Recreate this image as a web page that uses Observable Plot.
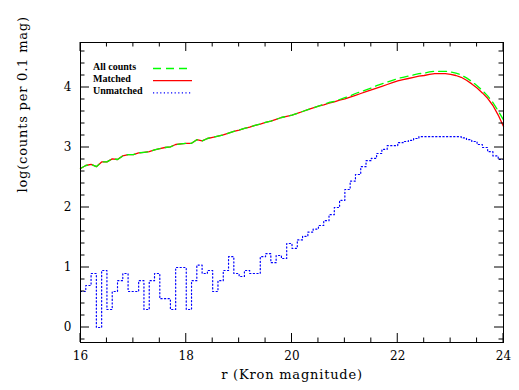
<!DOCTYPE html>
<html>
<head>
<meta charset="utf-8">
<script src="https://cdn.jsdelivr.net/npm/d3@7"></script>
<script src="https://cdn.jsdelivr.net/npm/@observablehq/plot@0.6"></script>
<style>
  html, body { margin: 0; padding: 0; background: #fff; }
</style>
</head>
<body>
<div id="chart"></div>
<script>
// r magnitude bin edges (0.1 mag bins)
const magnitudes = [
  16.0,16.1,16.2,16.3,16.4,16.5,16.6,16.7,16.8,16.9,
  17.0,17.1,17.2,17.3,17.4,17.5,17.6,17.7,17.8,17.9,
  18.0,18.1,18.2,18.3,18.4,18.5,18.6,18.7,18.8,18.9,
  19.0,19.1,19.2,19.3,19.4,19.5,19.6,19.7,19.8,19.9,
  20.0,20.1,20.2,20.3,20.4,20.5,20.6,20.7,20.8,20.9,
  21.0,21.1,21.2,21.3,21.4,21.5,21.6,21.7,21.8,21.9,
  22.0,22.1,22.2,22.3,22.4,22.5,22.6,22.7,22.8,22.9,
  23.0,23.1,23.2,23.3,23.4,23.5,23.6,23.7,23.8,23.9,
  24.0
];

// log(counts per 0.1 mag)
const allCounts = [
  2.65,2.70,2.72,2.68,2.76,2.76,2.81,2.80,2.86,2.88,
  2.88,2.91,2.92,2.93,2.96,2.98,3.00,3.01,3.05,3.06,
  3.07,3.07,3.13,3.11,3.15,3.17,3.19,3.21,3.24,3.27,
  3.29,3.32,3.34,3.37,3.39,3.42,3.44,3.47,3.50,3.52,
  3.54,3.57,3.60,3.63,3.66,3.69,3.72,3.75,3.77,3.80,
  3.83,3.86,3.90,3.93,3.96,3.99,4.03,4.06,4.09,4.12,
  4.15,4.17,4.19,4.21,4.23,4.24,4.26,4.27,4.27,4.27,
  4.26,4.24,4.21,4.16,4.10,4.03,3.95,3.86,3.75,3.61,
  3.46
];

const matched = [
  2.65,2.70,2.72,2.68,2.76,2.76,2.81,2.80,2.86,2.88,
  2.88,2.91,2.92,2.93,2.96,2.98,3.00,3.01,3.05,3.06,
  3.07,3.07,3.13,3.11,3.15,3.17,3.19,3.21,3.24,3.27,
  3.29,3.32,3.34,3.37,3.39,3.42,3.44,3.47,3.50,3.52,
  3.54,3.57,3.60,3.63,3.66,3.69,3.71,3.74,3.76,3.79,
  3.81,3.84,3.87,3.90,3.93,3.96,3.99,4.02,4.05,4.08,
  4.11,4.13,4.15,4.17,4.19,4.20,4.22,4.23,4.23,4.23,
  4.22,4.20,4.17,4.12,4.06,3.99,3.91,3.82,3.70,3.54,
  3.35
];

// histogram (step) values, one per bin; last entry closes the final bin at 24.0
const unmatched = [
  0.60,0.70,0.90,0.00,0.95,0.30,0.60,0.78,0.90,0.60,
  0.60,0.78,0.30,0.78,0.90,0.48,0.48,0.30,1.00,1.00,
  0.30,0.78,1.04,0.90,0.95,0.60,0.78,0.95,1.18,0.90,
  0.85,0.95,0.90,0.90,1.18,1.23,1.08,1.20,1.15,1.40,
  1.32,1.46,1.52,1.59,1.64,1.70,1.78,1.88,2.00,2.12,
  2.30,2.44,2.55,2.68,2.78,2.82,2.90,2.97,3.03,3.03,
  3.08,3.10,3.12,3.15,3.18,3.18,3.18,3.18,3.18,3.18,
  3.18,3.18,3.16,3.13,3.10,3.05,3.00,2.93,2.86,2.80,
  2.80
];

const xMajor = [16, 18, 20, 22, 24];
const xMinor = [16.5, 17, 17.5, 18.5, 19, 19.5, 20.5, 21, 21.5, 22.5, 23, 23.5];
const yMajor = [0, 1, 2, 3, 4];
const yMinor = [-0.2, 0.2, 0.4, 0.6, 0.8, 1.2, 1.4, 1.6, 1.8, 2.2, 2.4, 2.6, 2.8,
                3.2, 3.4, 3.6, 3.8, 4.2, 4.4, 4.6];

const xTitle = "r (Kron magnitude)";
const yTitle = "log(counts per 0.1 mag)";

const legendLabels = ["All counts", "Matched", "Unmatched"];
const legendColors = ["#00ff00", "#ff0000", "#0000ff"];
const legendDashes = ["8,5", null, "1.2,2.4"];

const rows = magnitudes.map((m, i) => ({
  mag: m, all: allCounts[i], matched: matched[i], unmatched: unmatched[i]
}));

// inward-pointing ticks on all four sides, placed with Plot's own scales
function ticksMark(index, scales, values, dims) {
  const g = d3.create("svg:g").attr("stroke", "#000").attr("stroke-width", 1).attr("fill", "none");
  const L = dims.marginLeft, R = dims.width - dims.marginRight;
  const T = dims.marginTop, B = dims.height - dims.marginBottom;
  const sets = [[xMajor, yMajor, 9], [xMinor, yMinor, 4.5]];
  for (const [xs, ys, len] of sets) {
    for (const v of xs) {
      const px = scales.x(v);
      g.append("line").attr("x1", px).attr("x2", px).attr("y1", B).attr("y2", B - len);
      g.append("line").attr("x1", px).attr("x2", px).attr("y1", T).attr("y2", T + len);
    }
    for (const v of ys) {
      const py = scales.y(v);
      g.append("line").attr("y1", py).attr("y2", py).attr("x1", L).attr("x2", L + len);
      g.append("line").attr("y1", py).attr("y2", py).attr("x1", R).attr("x2", R - len);
    }
  }
  return g.node();
}

function legendMark(index, scales, values, dims) {
  const g = d3.create("svg:g");
  const x0 = dims.marginLeft, y0 = dims.marginTop;
  legendLabels.forEach((label, i) => {
    const yy = y0 + 26.5 + i * 12.2;
    g.append("text")
      .attr("x", x0 + 13).attr("y", yy + 1)
      .attr("text-anchor", "start")
      .attr("font-family", "'Liberation Serif', serif")
      .attr("font-weight", "bold")
      .attr("font-size", 10)
      .attr("fill", "black")
      .text(label);
    const ln = g.append("line")
      .attr("x1", x0 + 73).attr("x2", x0 + 112)
      .attr("y1", yy).attr("y2", yy)
      .attr("stroke", legendColors[i])
      .attr("stroke-width", 1.3);
    if (legendDashes[i]) ln.attr("stroke-dasharray", legendDashes[i]);
  });
  return g.node();
}

const chart = Plot.plot({
  width: 519,
  height: 390,
  marginLeft: 80,
  marginRight: 16,
  marginTop: 42,
  marginBottom: 48,
  x: {domain: [16, 24]},
  y: {domain: [-0.25, 4.75]},
  style: {fontFamily: "'DejaVu Serif', serif", fontSize: "12px", background: "#fff", color: "#000"},
  marks: [
    Plot.lineY(rows, {x: "mag", y: "unmatched", curve: "step-after",
      stroke: "#0000ff", strokeWidth: 1.2, strokeDasharray: "1.2,2.4"}),
    Plot.lineY(rows, {x: "mag", y: "matched", stroke: "#ff0000", strokeWidth: 1.3}),
    Plot.lineY(rows, {x: "mag", y: "all", stroke: "#00ff00", strokeWidth: 1.3, strokeDasharray: "8,5"}),
    Plot.frame({stroke: "#000", strokeWidth: 1}),
    ticksMark,
    Plot.axisX(xMajor, {anchor: "bottom", tickSize: 0, tickPadding: 9, label: null, tickFormat: d => String(d)}),
    Plot.axisY(yMajor, {anchor: "left", tickSize: 0, tickPadding: 9, label: null, tickFormat: d => String(d)}),
    Plot.text([xTitle], {frameAnchor: "bottom", dy: 36, text: d => d, fontSize: 13, fill: "#000"}),
    Plot.text([yTitle], {frameAnchor: "left", dx: -58, rotate: -90, text: d => d, fontSize: 13, fill: "#000"}),
    legendMark
  ]
});

d3.select(chart).selectAll("text")
  .filter(function() { return this.textContent === xTitle || this.textContent === yTitle; })
  .attr("letter-spacing", "0.8px");

document.getElementById("chart").appendChild(chart);
</script>
</body>
</html>
